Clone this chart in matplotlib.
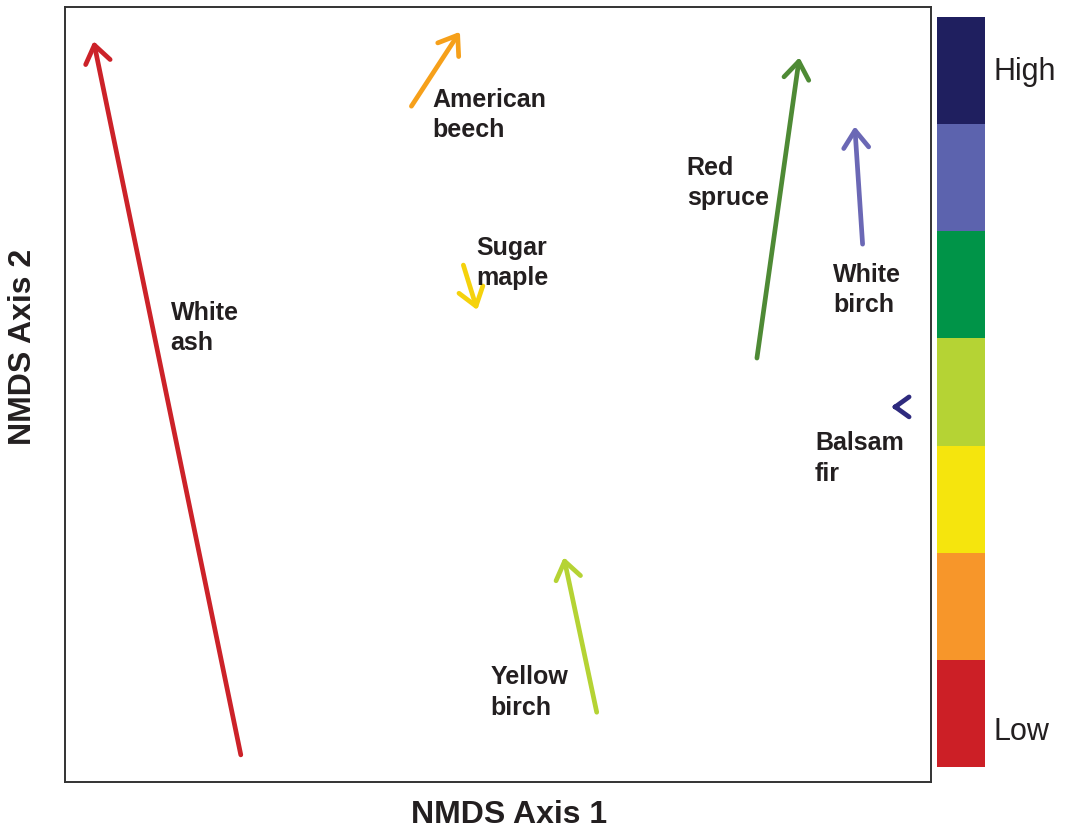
import matplotlib
matplotlib.use("Agg")
import matplotlib.pyplot as plt
from matplotlib.patches import FancyArrowPatch

plt.rcParams['font.family'] = ['Liberation Sans', 'DejaVu Sans']

# Species vectors in ordination space (start -> tip)
species = ["White\nash", "American\nbeech", "Sugar\nmaple", "Red\nspruce",
           "White\nbirch", "Balsam\nfir", "Yellow\nbirch"]
x_start = [20.3, 40.0, 46.0, 79.9, 92.1, 96.1, 61.4]
y_start = [3.5, 87.2, 66.7, 54.7, 69.4, 48.4, 9.0]
x_tip = [3.3, 45.6, 47.6, 84.8, 91.2, 95.4, 57.6]
y_tip = [95.6, 96.8, 60.9, 93.5, 84.6, 48.4, 29.0]
arrow_colors = ["#cc2229", "#f6a01a", "#f5d20c", "#4e8a35",
                "#6b68b5", "#2e2a7e", "#b5d334"]
label_x = [12.2, 42.4, 47.5, 71.8, 88.7, 86.6, 49.1]
label_y = [58.7, 86.2, 67.1, 77.4, 63.6, 41.9, 11.7]

# Colour scale from low to high
scale_colors = ["#cc1f26", "#f7962a", "#f5e50d", "#b5d334",
                "#009448", "#5c63ae", "#1f1f5f"]
scale_labels = ["Low", "High"]

text_color = "#231f20"

fig = plt.figure(figsize=(10.68, 8.28), dpi=100)
W, H = 1068, 828
ax = fig.add_axes([65 / W, 1 - 783 / H, (931 - 65) / W, (783 - 8) / H])
ax.set_xlim(0, 100)
ax.set_ylim(0, 100)
ax.set_xticks([])
ax.set_yticks([])
for sp in ax.spines.values():
    sp.set_linewidth(1.4)
    sp.set_color("#333333")

for i, (xs, ys, xt, yt, c) in enumerate(zip(x_start, y_start, x_tip, y_tip,
                                            arrow_colors)):
    scale = 20 if species[i].startswith("Balsam") else 25
    arr = FancyArrowPatch((xs, ys), (xt, yt),
                          arrowstyle="->,head_length=0.5,head_width=0.36",
                          mutation_scale=scale, color=c, linewidth=3.4,
                          shrinkA=0, shrinkB=0, capstyle='round',
                          joinstyle='round')
    ax.add_patch(arr)

for name, lx, ly in zip(species, label_x, label_y):
    ax.text(lx, ly, name, fontsize=18, fontweight='bold', color=text_color,
            ha='left', va='center', linespacing=1.35)

# Axis titles
fig.text(509 / W, 1 - 815 / H, "NMDS Axis 1", fontsize=23, fontweight='bold',
         color=text_color, ha='center', va='center')
fig.text(23 / W, 1 - 347 / H, "NMDS Axis 2", fontsize=23, fontweight='bold',
         color=text_color, ha='center', va='center', rotation=90)

# Colour scale bar
cax = fig.add_axes([937 / W, 1 - 768 / H, (985 - 937) / W, (768 - 18) / H])
cax.bar([0] * len(scale_colors), [1] * len(scale_colors), width=1,
        bottom=list(range(len(scale_colors))), color=scale_colors,
        edgecolor='none')
cax.set_xlim(-0.5, 0.5)
cax.set_ylim(0, len(scale_colors))
cax.axis('off')
fig.text(993 / W, 1 - 732 / H, scale_labels[0], fontsize=22, color=text_color,
         ha='left', va='center')
fig.text(993 / W, 1 - 72 / H, scale_labels[1], fontsize=22, color=text_color,
         ha='left', va='center')

fig.savefig("out.png", dpi=100)
